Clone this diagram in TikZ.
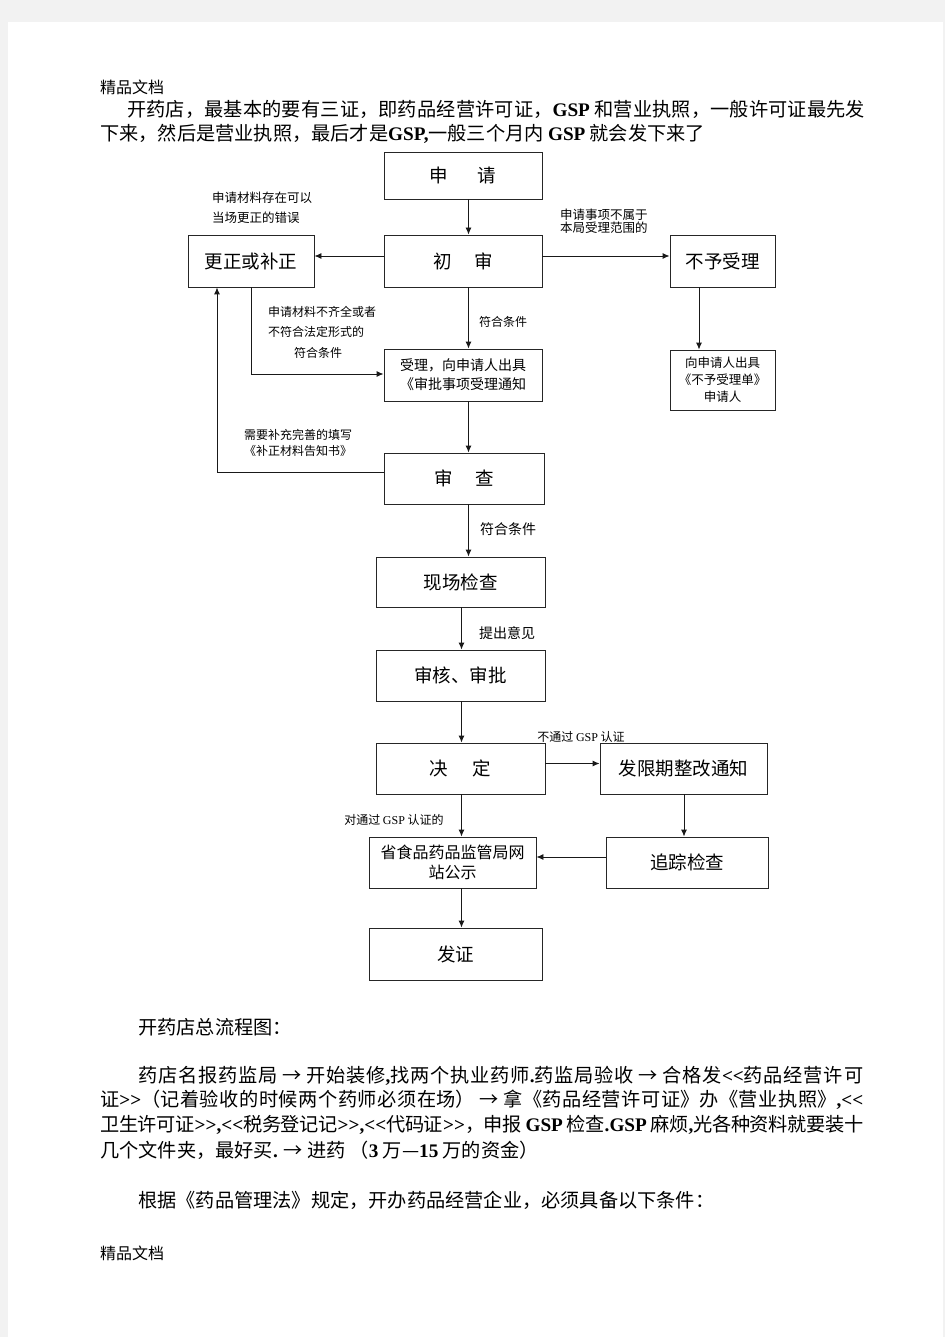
\documentclass[tikz,border=0pt]{standalone}
\usepackage{fontspec}
\setmainfont{Noto Sans CJK SC}
\newfontfamily\lat{Liberation Serif}
\usetikzlibrary{arrows.meta}
\newcommand\BL[1]{{\lat\bfseries #1}}
\newcommand\NL[1]{{\lat #1}}
\newcommand\jl[2]{\parbox{#1}{\XeTeXlinebreaklocale "zh"\XeTeXlinebreakskip=0pt plus 3pt minus 1pt\relax\tolerance=10000\relax\parfillskip=0pt\relax #2\par}}
\begin{document}
\begin{tikzpicture}[x=1pt,y=-1pt,
  box/.style={draw=black!85, line width=0.9pt, inner sep=0pt, align=center, font=\fontsize{18.5}{22}\selectfont},
  arr/.style={draw=black!90, line width=0.9pt, -{Latex[length=7pt,width=6pt]}},
  ln/.style={draw=black!90, line width=0.9pt},
  lbl/.style={inner sep=0pt, align=center, font=\fontsize{12}{15}\selectfont},
  body/.style={anchor=west, inner sep=0pt, font=\fontsize{19.2}{24}\selectfont},
  hdr/.style={anchor=west, inner sep=0pt, font=\fontsize{16}{20}\selectfont}]
\useasboundingbox (0,0) rectangle (945,1337);
\fill[black!5] (0,0) rectangle (945,1337);
\fill[white] (8,22) rectangle (943,1337);

% header and body text
\node[hdr] (h1) at (100,87) {精品文档};
\node[body] (t1) at (127,109) {\jl{738pt}{开药店，最基本的要有三证，即药品经营许可证，\BL{GSP} 和营业执照，一般许可证最先发}};
\node[body] (t2) at (100,134) {下来，然后是营业执照，最后才是\BL{GSP,}一般三个月内 \BL{GSP} 就会发下来了};

% boxes
\node[box, minimum width=158, minimum height=47] (sq) at (463,175.5) {申\hspace{1.6em}请};
\node[box, minimum width=158, minimum height=52] (cs) at (463,261) {初\hspace{1.2em}审};
\node[box, minimum width=126, minimum height=52] (gz) at (251,261) {更正或补正};
\node[box, minimum width=105, minimum height=52] (by) at (722.5,261) {不予受理};
\node[box, minimum width=158, minimum height=52, font=\fontsize{14}{19}\selectfont] (sl) at (463,375) {受理，向申请人出具\\《审批事项受理通知};
\node[box, minimum width=105, minimum height=60, font=\fontsize{12.5}{17}\selectfont] (xs) at (722.5,380) {向申请人出具\\《不予受理单》\\申请人};
\node[box, minimum width=160, minimum height=51] (sc) at (464,478.5) {审\hspace{1.2em}查};
\node[box, minimum width=169, minimum height=50] (xc) at (460.5,582) {现场检查};
\node[box, minimum width=169, minimum height=51] (sh) at (460.5,675.5) {审核、审批};
\node[box, minimum width=169, minimum height=51] (jd) at (460.5,768.5) {决\hspace{1.3em}定};
\node[box, minimum width=167, minimum height=51] (fx) at (683.5,768.5) {发限期整改通知};
\node[box, minimum width=167, minimum height=51, font=\fontsize{16}{20}\selectfont] (gs) at (452.5,862.5) {省食品药品监管局网\\站公示};
\node[box, minimum width=162, minimum height=51] (zz) at (687,862.5) {追踪检查};
\node[box, minimum width=173, minimum height=52] (fz) at (455.5,954) {发证};

% helper coordinates
\coordinate (xa) at (468.5,0);
\coordinate (xb) at (461.5,0);
\coordinate (xn) at (699,0);
\coordinate (xg) at (251,0);
\coordinate (xl) at (217,0);
\coordinate (xz) at (684,0);
\coordinate (ya) at (0,256);
\coordinate (yb) at (0,374);
\coordinate (yc) at (0,472.5);
\coordinate (yd) at (0,763.5);
\coordinate (ye) at (0,857);

% connectors
\draw[arr] (sq.south -| xa) -- (cs.north -| xa);
\draw[arr] (cs.west |- ya) -- (gz.east |- ya);
\draw[arr] (cs.east |- ya) -- (by.west |- ya);
\draw[arr] (by.south -| xn) -- (xs.north -| xn);
\draw[arr] (cs.south -| xa) -- (sl.north -| xa);
\draw[arr] (gz.south -| xg) -- (xg |- yb) -- (sl.west |- yb);
\draw[arr] (sl.south -| xa) -- (sc.north -| xa);
\draw[arr] (sc.west |- yc) -- (xl |- yc) -- (gz.south -| xl);
\draw[arr] (sc.south -| xa) -- (xc.north -| xa);
\draw[arr] (xc.south -| xb) -- (sh.north -| xb);
\draw[arr] (sh.south -| xb) -- (jd.north -| xb);
\draw[arr] (jd.east |- yd) -- (fx.west |- yd);
\draw[arr] (jd.south -| xb) -- (gs.north -| xb);
\draw[arr] (fx.south -| xz) -- (zz.north -| xz);
\draw[arr] (zz.west |- ye) -- (gs.east |- ye);
\draw[arr] (gs.south -| xb) -- (fz.north -| xb);

% labels
\node[lbl, anchor=west, font=\fontsize{12.5}{15}\selectfont] (l1) at (212,198) {申请材料存在可以};
\node[lbl, anchor=west, font=\fontsize{12.5}{15}\selectfont] (l2) at (212,218) {当场更正的错误};
\node[lbl, anchor=west, align=left, font=\fontsize{12.5}{13}\selectfont] (l3) at (560,221.5) {申请事项不属于\\本局受理范围的};
\node[lbl, anchor=west] (l4) at (268,312) {申请材料不齐全或者};
\node[lbl, anchor=west] (l5) at (268,332) {不符合法定形式的};
\node[lbl] (l6) at (318,353) {符合条件};
\node[lbl] (l7) at (503,322) {符合条件};
\node[lbl] (l8) at (298,435) {需要补充完善的填写};
\node[lbl] (l9) at (298,451) {《补正材料告知书》};
\node[lbl, font=\fontsize{14}{16}\selectfont] (l10) at (508,529) {符合条件};
\node[lbl, font=\fontsize{14}{16}\selectfont] (l11) at (507,633) {提出意见};
\node[lbl] (l12) at (581,737) {不通过 \NL{GSP} 认证};
\node[lbl] (l13) at (394,820) {对通过 \NL{GSP} 认证的};

% lower body text
\node[body] (b1) at (138,1027) {开药店总流程图：};
\node[body] (b2) at (138,1076) {\jl{725pt}{药店名报药监局 → 开始装修\BL{,}找两个执业药师\BL{.}药监局验收 → 合格发\BL{<{}<}药品经营许可}};
\node[body] (b3) at (100,1100) {\jl{763pt}{证\BL{>{}>}（记着验收的时候两个药师必须在场） → 拿《药品经营许可证》办《营业执照》\BL{,<{}<}}};
\node[body] (b4) at (100,1125) {\jl{763pt}{卫生许可证\BL{>{}>,<{}<}税务登记记\BL{>{}>,<{}<}代码证\BL{>{}>}，申报 \BL{GSP} 检查\BL{.GSP} 麻烦\BL{,}光各种资料就要装十}};
\node[body] (b5) at (100,1150) {几个文件夹，最好买\BL{.} → 进药 （\BL{3} 万—\BL{15} 万的资金）};
\node[body] (b6) at (138,1200) {根据《药品管理法》规定，开办药品经营企业，必须具备以下条件：};
\node[hdr] (f1) at (100,1253) {精品文档};
\end{tikzpicture}
\end{document}
